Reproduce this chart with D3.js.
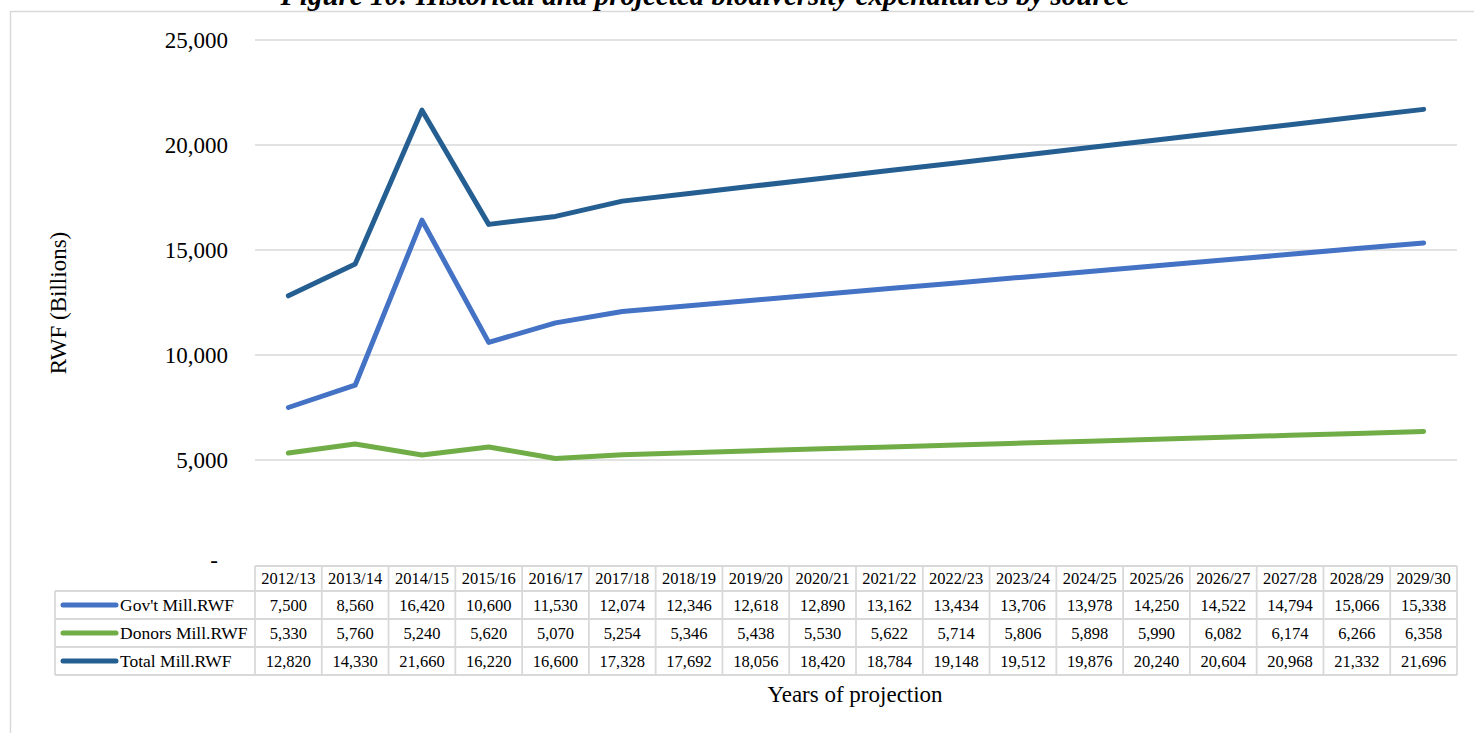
<!DOCTYPE html>
<html>
<head>
<meta charset="utf-8">
<script src="https://cdn.jsdelivr.net/npm/d3@7"></script>
<style>
  html, body { margin: 0; padding: 0; background: #fff; }
  svg { display: block; }
  text { font-family: "Liberation Serif", "Times New Roman", serif; fill: #000; }
</style>
</head>
<body>
<svg id="chart" width="1474" height="733"></svg>
<script>
// Fiscal years shown on the x axis and in the data table
const years = ["2012/13","2013/14","2014/15","2015/16","2016/17","2017/18","2018/19","2019/20","2020/21",
  "2021/22","2022/23","2023/24","2024/25","2025/26","2026/27","2027/28","2028/29","2029/30"];

// Expenditure series (million RWF)
const govValues = [7500,8560,16420,10600,11530,12074,12346,12618,12890,13162,13434,13706,13978,14250,14522,14794,15066,15338];
const donorValues = [5330,5760,5240,5620,5070,5254,5346,5438,5530,5622,5714,5806,5898,5990,6082,6174,6266,6358];
const totalValues = [12820,14330,21660,16220,16600,17328,17692,18056,18420,18784,19148,19512,19876,20240,20604,20968,21332,21696];

const seriesNames = ["Gov't Mill.RWF","Donors Mill.RWF","Total Mill.RWF"];
const seriesColors = ["#4472C4","#70AD47","#255E91"];
const yTicks = [0,5000,10000,15000,20000,25000];

const series = [
  {name: seriesNames[0], color: seriesColors[0], values: govValues},
  {name: seriesNames[1], color: seriesColors[1], values: donorValues},
  {name: seriesNames[2], color: seriesColors[2], values: totalValues}
];

const serif = '"Liberation Serif", "Times New Roman", serif';
const svg = d3.select("#chart");
const W = 1474, H = 733;
const plotLeft = 255, plotRight = 1457, plotTop = 40, plotBottom = 565;
const rowH = 28, headerH = 25;
const legendLeft = 55;
const gridColor = "#d9d9d9";

// Outer chart border
svg.append("rect")
  .attr("x", 10.5).attr("y", 11.5)
  .attr("width", W + 10).attr("height", H + 10)
  .attr("fill", "none").attr("stroke", gridColor).attr("stroke-width", 1.5);

// Title (sits above the chart frame, partly beyond the top edge)
svg.append("text")
  .attr("x", 705).attr("y", 5)
  .attr("text-anchor", "middle")
  .style("font-family", serif)
  .style("font-size", "29px").style("font-weight", "bold").style("font-style", "italic")
  .text("Figure 10: Historical and projected biodiversity expenditures by source");

const x = d3.scaleBand().domain(years).range([plotLeft, plotRight]).padding(0);
const y = d3.scaleLinear().domain([0, 25000]).range([plotBottom, plotTop]);

// Horizontal gridlines
svg.append("g")
  .selectAll("line")
  .data(yTicks.filter(d => d > 0))
  .join("line")
  .attr("x1", plotLeft).attr("x2", plotRight)
  .attr("y1", d => y(d)).attr("y2", d => y(d))
  .attr("stroke", gridColor).attr("stroke-width", 1.5);

// Y axis labels
const yAxis = d3.axisLeft(y).tickValues(yTicks)
  .tickFormat(d => d === 0 ? "-" : d3.format(",")(d))
  .tickSize(0).tickPadding(0);
const yG = svg.append("g").attr("transform", `translate(${228},0)`).call(yAxis);
yG.select(".domain").remove();
yG.selectAll("text")
  .style("font-family", serif)
  .style("font-size", "23px").attr("fill", "#000")
  .attr("dy", "0.32em");
yG.selectAll(".tick").filter(d => d === 0).select("text").attr("x", -10).attr("dy", "0.1em");

// Y axis title
svg.append("text")
  .attr("transform", `translate(66,${303}) rotate(-90)`)
  .attr("text-anchor", "middle")
  .style("font-family", serif)
  .style("font-size", "23px")
  .text("RWF (Billions)");

// Series lines
const line = d3.line()
  .x((d, i) => x(years[i]) + x.bandwidth() / 2)
  .y(d => y(d))
  .curve(d3.curveLinear);

svg.append("g")
  .selectAll("path")
  .data(series)
  .join("path")
  .attr("d", d => line(d.values))
  .attr("fill", "none")
  .attr("stroke", d => d.color)
  .attr("stroke-width", 5)
  .attr("stroke-linejoin", "round")
  .attr("stroke-linecap", "round");

// Data table
const table = svg.append("g");
const tableTop = plotBottom + 1;
const bodyTop = tableTop + headerH;
const tableBottom = bodyTop + rowH * series.length;

function hline(x1, x2, yy) {
  table.append("line").attr("x1", x1).attr("x2", x2).attr("y1", yy).attr("y2", yy)
    .attr("stroke", gridColor).attr("stroke-width", 1.8);
}
function vline(xx, y1, y2) {
  table.append("line").attr("x1", xx).attr("x2", xx).attr("y1", y1).attr("y2", y2)
    .attr("stroke", gridColor).attr("stroke-width", 1.8);
}

hline(plotLeft, plotRight, tableTop);
for (let r = 0; r <= series.length; r++) hline(legendLeft, plotRight, bodyTop + r * rowH);
vline(legendLeft, bodyTop, tableBottom);
years.forEach(yr => vline(x(yr), tableTop, tableBottom));
vline(plotRight, tableTop, tableBottom);

// Header labels
table.selectAll("text.hdr")
  .data(years)
  .join("text")
  .attr("class", "hdr")
  .attr("x", d => x(d) + x.bandwidth() / 2)
  .attr("y", tableTop + headerH / 2)
  .attr("dy", "0.35em")
  .attr("text-anchor", "middle")
  .style("font-family", serif)
  .style("font-size", "16.5px")
  .text(d => d);

// Body rows: legend key, name and values
series.forEach((s, r) => {
  const cy = bodyTop + r * rowH + rowH / 2;
  table.append("line")
    .attr("x1", 63).attr("x2", 116).attr("y1", cy).attr("y2", cy)
    .attr("stroke", s.color).attr("stroke-width", 5).attr("stroke-linecap", "round");
  table.append("text")
    .attr("x", 120).attr("y", cy).attr("dy", "0.35em")
    .style("font-family", serif)
    .style("font-size", "17.5px")
    .text(s.name);
  table.selectAll(null)
    .data(s.values)
    .join("text")
    .attr("x", (d, i) => x(years[i]) + x.bandwidth() / 2)
    .attr("y", cy).attr("dy", "0.35em")
    .attr("text-anchor", "middle")
    .style("font-family", serif)
    .style("font-size", "16.5px")
    .text(d => d3.format(",")(d));
});

// X axis title
svg.append("text")
  .attr("x", 855).attr("y", 702)
  .attr("text-anchor", "middle")
  .style("font-family", serif)
  .style("font-size", "23px")
  .text("Years of projection");
</script>
</body>
</html>
